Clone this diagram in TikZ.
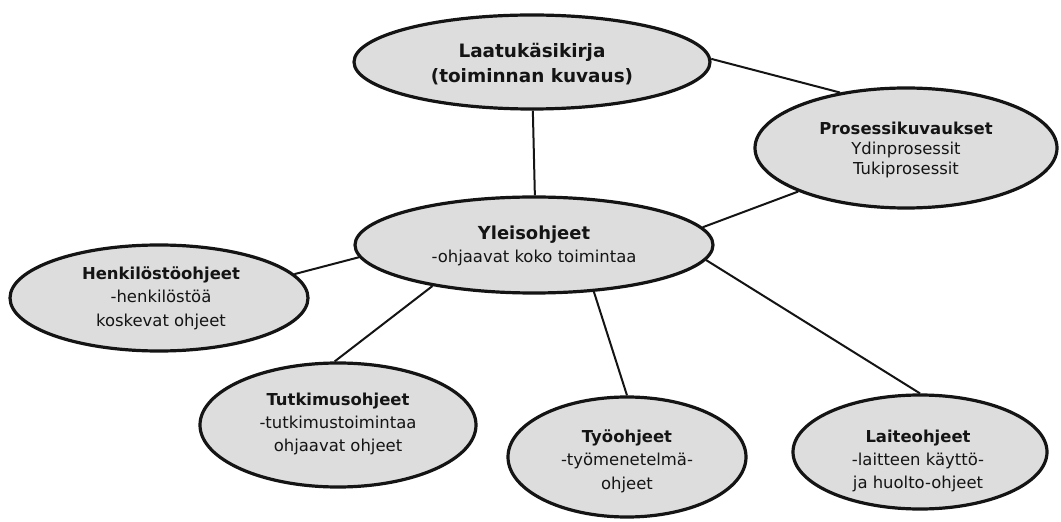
\documentclass[tikz,border=0pt]{standalone}
\usepackage{fontspec}
\setmainfont{DejaVu Sans}
\usetikzlibrary{shapes.geometric}
\definecolor{ellfill}{RGB}{221,221,221}
\definecolor{ink}{RGB}{20,20,20}
\tikzset{
  ell/.style={ellipse, draw=ink, line width=3.2bp, fill=ellfill, inner sep=0pt},
  txt/.style={align=center, text=ink, inner sep=0pt, font=\fontsize{16.5}{23.5}\selectfont},
  conn/.style={draw=ink, line width=2bp}
}
\begin{document}
\begin{tikzpicture}[x=1bp,y=-1bp]
\useasboundingbox (0,0) rectangle (1061,522);
% ellipses
\node[ell, minimum width=356bp, minimum height=94bp] (laatu) at (532,62) {};
\node[ell, minimum width=302bp, minimum height=120bp] (pros) at (906,148) {};
\node[ell, minimum width=358bp, minimum height=96bp] (yleis) at (534,245) {};
\node[ell, minimum width=298bp, minimum height=106bp] (henk) at (159,298) {};
\node[ell, minimum width=276bp, minimum height=124bp] (tutk) at (338,425) {};
\node[ell, minimum width=238bp, minimum height=120bp] (tyo) at (627,457) {};
\node[ell, minimum width=254bp, minimum height=114bp] (laite) at (920,452) {};
% texts
\node[txt, font=\fontsize{18.5}{24.5}\selectfont\bfseries] (laatu-t) at (532,64) {Laatukäsikirja\\(toiminnan kuvaus)};
\node[txt] (pros-t) at (906,150) {\textbf{Prosessikuvaukset}\\[-3bp]Ydinprosessit\\[-3bp]Tukiprosessit};
\node[txt] (yleis-t) at (534,246) {{\fontsize{18}{23.5}\selectfont\bfseries Yleisohjeet}\\-ohjaavat koko toimintaa};
\node[txt] (henk-t) at (161,298) {\textbf{Henkilöstöohjeet}\\-henkilöstöä\\koskevat ohjeet};
\node[txt] (tutk-t) at (338,424) {\textbf{Tutkimusohjeet}\\-tutkimustoimintaa\\ohjaavat ohjeet};
\node[txt] (tyo-t) at (627,461) {\textbf{Työohjeet}\\-työmenetelmä-\\ohjeet};
\node[txt] (laite-t) at (918,461) {\textbf{Laiteohjeet}\\-laitteen käyttö-\\ja huolto-ohjeet};
% connectors
\draw[conn] (laatu.-89) -- (yleis.89);
\draw[conn] (laatu.1.6) -- (pros.140);
\draw[conn] (yleis.6.9) -- (pros.202.4);
\draw[conn] (yleis.184) -- (henk.10);
\draw[conn] (yleis.202) -- (tutk.93);
\draw[conn] (yleis.-38.4) -- (tyo.90);
\draw[conn] (yleis.-5.8) -- (laite.90);
\end{tikzpicture}
\end{document}
